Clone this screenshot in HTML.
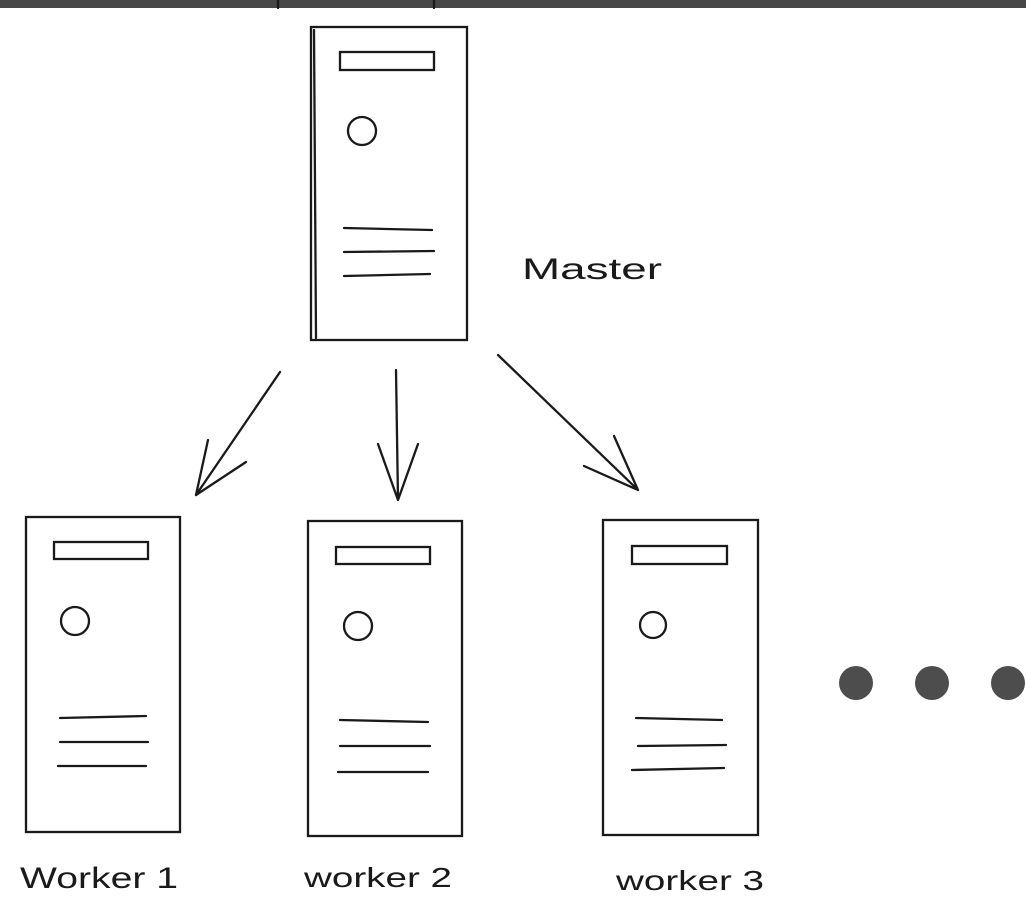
<!DOCTYPE html>
<html><head><meta charset="utf-8"><style>
html,body{margin:0;padding:0;background:#fff;}
svg{display:block}
text{font-family:"Liberation Sans",sans-serif;fill:#1a1a1a;}
</style></head><body>
<svg width="1026" height="920" viewBox="0 0 1026 920">
<rect x="0" y="0" width="1026" height="8" fill="#474747"/>
<g stroke="#1a1a1a" stroke-width="2.3" fill="none" stroke-linecap="round">
<path d="M278 0v8M434 0v8"/>
<rect x="311" y="27" width="156" height="313"/>
<path d="M314 30 L316 338"/>
<rect x="340" y="52" width="94" height="18"/>
<circle cx="362" cy="131" r="14"/>
<path d="M344 228 L432 230 M344 252 L434 251 M344 276 L430 274"/>
<rect x="26" y="517" width="154" height="315"/>
<rect x="54" y="542" width="94" height="17"/>
<circle cx="75" cy="621" r="14"/>
<path d="M60 718 L146 716 M60 742 L148 742 M58 766 L146 766"/>
<rect x="308" y="521" width="154" height="315"/>
<rect x="336" y="547" width="94" height="17"/>
<circle cx="358" cy="626" r="14"/>
<path d="M340 720 L428 722 M340 746 L430 746 M338 772 L428 772"/>
<rect x="603" y="520" width="155" height="315"/>
<rect x="632" y="546" width="95" height="18"/>
<circle cx="653" cy="625" r="13"/>
<path d="M636 718 L722 720 M638 746 L726 745 M632 770 L724 768"/>
<path d="M280 372 L196 495 M196 495 L208 440 M196 495 L246 462"/>
<path d="M396 370 L398 500 M398 500 L378 444 M398 500 L418 444"/>
<path d="M498 355 L638 490 M638 490 L584 466 M638 490 L614 436"/>
</g>
<text x="522" y="279" font-size="30" textLength="140" lengthAdjust="spacingAndGlyphs">Master</text>
<text x="20" y="888" font-size="30" textLength="158" lengthAdjust="spacingAndGlyphs">Worker 1</text>
<text x="304" y="887" font-size="28" textLength="148" lengthAdjust="spacingAndGlyphs">worker 2</text>
<text x="616" y="890" font-size="28" textLength="148" lengthAdjust="spacingAndGlyphs">worker 3</text>
<g fill="#4d4d4d">
<circle cx="856" cy="683" r="17"/>
<circle cx="932" cy="683" r="17"/>
<circle cx="1008" cy="683" r="17"/>
</g>
</svg>
</body></html>
